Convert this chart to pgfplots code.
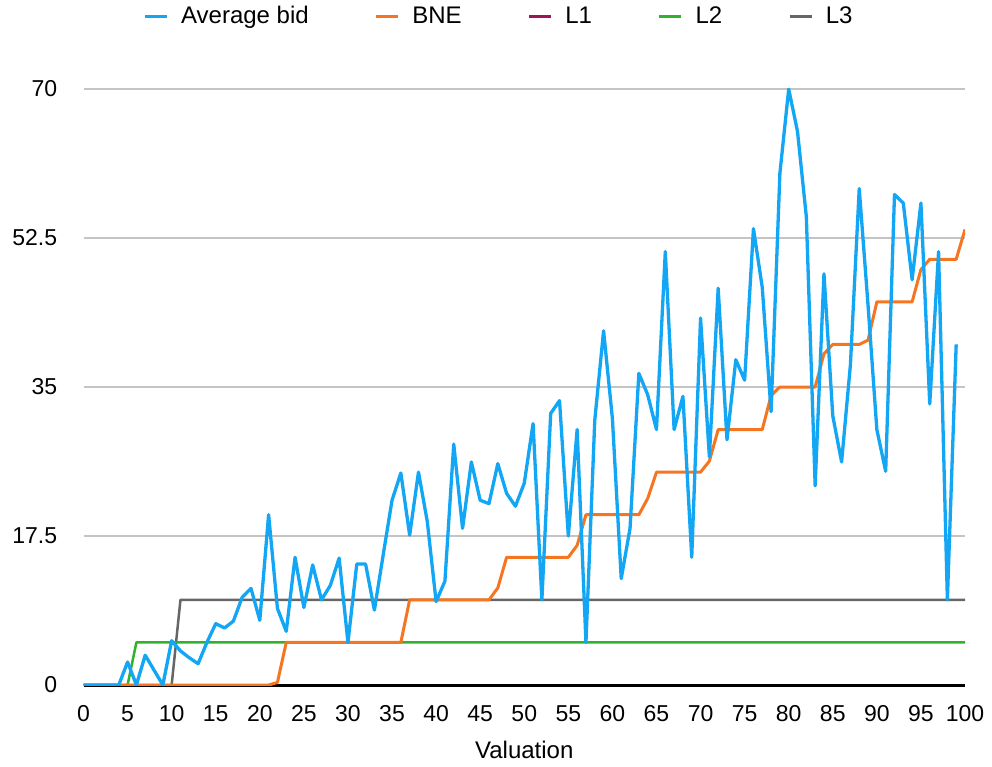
\documentclass[border=0pt]{standalone}
\usepackage{pgfplots}
\pgfplotsset{compat=1.18}
\usepackage{fontspec}
\setmainfont{Liberation Sans}
\definecolor{avgc}{RGB}{18,166,245}
\definecolor{bnec}{RGB}{245,117,32}
\definecolor{lonec}{RGB}{158,20,84}
\definecolor{ltwoc}{RGB}{48,178,44}
\definecolor{lthreec}{RGB}{102,102,102}
\definecolor{gridc}{RGB}{196,196,196}

\pgfplotstableread{
x y
0 0
1 0
2 0
3 0
4 0
5 2.7
6 0
7 3.5
8 1.75
9 0
10 5.2
11 4.0
12 3.2
13 2.5
14 5.0
15 7.2
16 6.7
17 7.5
18 10.3
19 11.35
20 7.6
21 20
22 9.0
23 6.3
24 15.0
25 9.1
26 14.1
27 10.0
28 11.7
29 14.9
30 5.0
31 14.2
32 14.2
33 8.8
34 15.3
35 21.7
36 24.9
37 17.6
38 25.0
39 19.2
40 9.8
41 12.2
42 28.3
43 18.4
44 26.2
45 21.7
46 21.3
47 26.0
48 22.5
49 21.0
50 23.7
51 30.7
52 10.0
53 31.9
54 33.4
55 17.5
56 30.0
57 5.0
58 31.1
59 41.6
60 31.3
61 12.5
62 18.4
63 36.6
64 34.1
65 30.0
66 50.9
67 30.0
68 33.9
69 15.0
70 43.1
71 26.8
72 46.6
73 28.8
74 38.2
75 35.8
76 53.6
77 46.7
78 32.1
79 60.1
80 70.0
81 65.0
82 55.0
83 23.4
84 48.3
85 31.6
86 26.2
87 37.6
88 58.3
89 44.6
90 30.0
91 25.1
92 57.6
93 56.6
94 47.6
95 56.6
96 33.0
97 50.9
98 10.0
99 40.0
}\avgtable

\pgfplotstableread{
x y
0 0
21 0
22 0.3
23 5
36 5
37 10
46 10
47 11.4
48 15
55 15
56 16.4
57 20
63 20
64 21.9
65 25
70 25
71 26.3
72 30
77 30
78 34
79 35
83 35
84 38.9
85 40
88 40
89 40.5
90 45
94 45
95 48.8
96 50
99 50
100 53.5
}\bnetable

\pgfplotstableread{
x y
0 0
5 0
6 5
100 5
}\ltwotable

\pgfplotstableread{
x y
0 0
10 0
11 10
100 10
}\lthreetable

\begin{document}
\begin{tikzpicture}[font=\fontsize{11.5bp}{13.8bp}\selectfont]
\begin{axis}[
  at={(0,0)}, anchor=origin,
  scale only axis,
  width=440.75bp, height=298bp,
  xmin=0, xmax=100, ymin=0, ymax=70,
  axis line style={draw=none},
  major tick length=0pt,
  tick style={draw=none},
  xtick={0,5,10,15,20,25,30,35,40,45,50,55,60,65,70,75,80,85,90,95,100},
  xticklabels={0,5,10,15,20,25,30,35,40,45,50,55,60,65,70,75,80,85,90,95,100},
  ytick={0,17.5,35,52.5,70},
  yticklabels={0,17.5,35,52.5,70},
  ymajorgrids,
  grid style={gridc, line width=0.6bp},
  extra y ticks={0},
  extra y tick labels={},
  extra y tick style={grid style={black, line width=1.5bp}},
  xticklabel style={anchor=north, inner sep=0pt, yshift=-10bp},
  yticklabel style={anchor=east, inner sep=0pt, xshift=-13bp},
  xlabel={Valuation},
  xlabel style={at={(axis description cs:0.5,0)}, anchor=center, inner sep=0pt, yshift=-32.5bp, font=\fontsize{12bp}{14bp}\selectfont},
  legend columns=-1,
  legend style={draw=none, fill=none, at={(axis description cs:0.4725,1.122)}, anchor=center, inner sep=0pt,
    font=\fontsize{12bp}{14bp}\selectfont,
    /tikz/every even column/.append style={column sep=31bp},
    /tikz/every odd column/.append style={column sep=4.5bp}},
  legend image code/.code={\draw[#1, line width=1.3bp] (0bp,0bp) -- (11bp,0bp);},
  line join=round,
]
\addlegendimage{avgc}\addlegendentry{Average bid}
\addlegendimage{bnec}\addlegendentry{BNE}
\addlegendimage{lonec}\addlegendentry{L1}
\addlegendimage{ltwoc}\addlegendentry{L2}
\addlegendimage{lthreec}\addlegendentry{L3}
\addplot[lthreec, line width=1.25bp, no markers, forget plot] table {\lthreetable};
\addplot[ltwoc, line width=1.25bp, no markers, forget plot] table {\ltwotable};
\addplot[bnec, line width=1.5bp, no markers, forget plot] table {\bnetable};
\addplot[avgc, line width=1.65bp, no markers, forget plot] table {\avgtable};
\end{axis}
\pgfresetboundingbox
\path[use as bounding box] (-41.75bp,-41bp) rectangle (454.25bp,342.5bp);
\end{tikzpicture}
\end{document}
